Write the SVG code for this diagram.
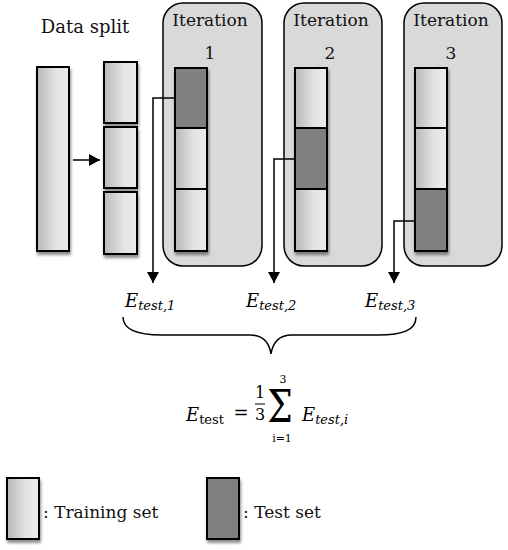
<svg xmlns="http://www.w3.org/2000/svg" width="508" height="550" viewBox="0 0 508 550">
<defs>
<linearGradient id="trg" x1="0" y1="0" x2="1" y2="0">
<stop offset="0" stop-color="#b8b8b8"/>
<stop offset="0.6" stop-color="#e4e4e4"/>
<stop offset="1" stop-color="#ececec"/>
</linearGradient>
<filter id="sh" x="-30%" y="-10%" width="160%" height="130%">
<feGaussianBlur in="SourceAlpha" stdDeviation="1.5"/>
<feOffset dx="1" dy="3" result="b"/>
<feComponentTransfer><feFuncA type="linear" slope="0.45"/></feComponentTransfer>
<feMerge><feMergeNode/><feMergeNode in="SourceGraphic"/></feMerge>
</filter>
<marker id="ah" viewBox="0 0 11 12" refX="11" refY="6" markerWidth="11" markerHeight="12" markerUnits="userSpaceOnUse" orient="auto">
<path d="M0,0 L11,6 L0,12 Z" fill="#000"/>
</marker>
</defs>
<style>
.txt{font-family:"DejaVu Serif","Liberation Serif",serif;fill:#111;}
.box{fill:#d9d9d9;stroke:#000;stroke-width:1.5;}
.tr{fill:url(#trg);stroke:#000;stroke-width:2;}
.te{fill:#808080;stroke:#000;stroke-width:2;}
.conn{fill:none;stroke:#000;stroke-width:1.5;}
.math{font-family:"DejaVu Serif","Liberation Serif",serif;fill:#000;}
.it{font-style:italic;}
</style>

<g id="data-split">
<text class="txt" x="85" y="33" font-size="18" text-anchor="middle">Data split</text>
<rect class="tr" x="37" y="67" width="32" height="184" filter="url(#sh)"/>
</g>
<g id="split-blocks">
<rect class="tr" x="104" y="62" width="33" height="61" filter="url(#sh)"/>
<rect class="tr" x="104" y="127" width="33" height="61" filter="url(#sh)"/>
<rect class="tr" x="104" y="192" width="33" height="62" filter="url(#sh)"/>
</g>

<g id="iteration-1">
<rect class="box" x="163" y="3" width="99" height="263" rx="20"/>
<text class="txt" x="210" y="26" font-size="17" text-anchor="middle">Iteration</text>
<text class="txt" x="210" y="59" font-size="17" text-anchor="middle">1</text>
<g filter="url(#sh)">
<rect class="te" x="175" y="68" width="32" height="60"/>
<rect class="tr" x="175" y="128" width="32" height="61"/>
<rect class="tr" x="175" y="189" width="32" height="62"/>
</g>
</g>
<g id="iteration-2">
<rect class="box" x="284" y="3" width="98" height="263" rx="20"/>
<text class="txt" x="331" y="26" font-size="17" text-anchor="middle">Iteration</text>
<text class="txt" x="330" y="59" font-size="17" text-anchor="middle">2</text>
<g filter="url(#sh)">
<rect class="tr" x="295" y="68" width="32" height="60"/>
<rect class="te" x="295" y="128" width="32" height="61"/>
<rect class="tr" x="295" y="189" width="32" height="62"/>
</g>
</g>
<g id="iteration-3">
<rect class="box" x="404" y="3" width="98" height="263" rx="20"/>
<text class="txt" x="451" y="26" font-size="17" text-anchor="middle">Iteration</text>
<text class="txt" x="451" y="59" font-size="17" text-anchor="middle">3</text>
<g filter="url(#sh)">
<rect class="tr" x="415" y="68" width="32" height="60"/>
<rect class="tr" x="415" y="128" width="32" height="61"/>
<rect class="te" x="415" y="189" width="32" height="62"/>
</g>
</g>

<g id="connectors">
<path class="conn" d="M73,160 H100" marker-end="url(#ah)"/>
<path class="conn" d="M175,98 H153 V283" marker-end="url(#ah)"/>
<path class="conn" d="M295,159 H274 V283" marker-end="url(#ah)"/>
<path class="conn" d="M415,221 H394 V283" marker-end="url(#ah)"/>
<path class="conn" stroke-width="2" d="M123,317 C123,330 137,335 162,335 L250,335 C262,335 269,341 271,354 C273,341 280,335 292,335 L378,335 C403,335 416,330 416,317"/>
</g>

<g id="e1">
<text class="math it" x="125" y="307" font-size="18">E<tspan font-size="13" dy="3">test,1</tspan></text>
</g>
<g id="e2">
<text class="math it" x="246" y="307" font-size="18">E<tspan font-size="13" dy="3">test,2</tspan></text>
</g>
<g id="e3">
<text class="math it" x="365" y="307" font-size="18">E<tspan font-size="13" dy="3">test,3</tspan></text>
</g>

<g id="formula">
<text class="math it" x="186" y="421" font-size="18">E<tspan font-size="13" dy="3" font-style="normal">test</tspan></text>
<text class="math" x="241" y="419" font-size="18" text-anchor="middle">=</text>
<text class="math" x="260" y="398" font-size="16" text-anchor="middle">1</text>
<line x1="255" y1="404" x2="265" y2="404" stroke="#000" stroke-width="1"/>
<text class="math" x="260" y="420" font-size="16" text-anchor="middle">3</text>
<text class="math" x="283" y="383" font-size="11" text-anchor="middle">3</text>
<text class="math" x="280" y="422" font-size="45" text-anchor="middle" transform="translate(280,0) scale(0.8,1) translate(-280,0)">Σ</text>
<text class="math" x="282" y="442" font-size="11" text-anchor="middle">i=1</text>
<text class="math it" x="302" y="421" font-size="18">E<tspan font-size="13" dy="3">test,i</tspan></text>
</g>

<g id="legend-training">
<rect class="tr" x="7" y="478" width="32" height="61" filter="url(#sh)"/>
<text class="txt" x="43" y="518" font-size="17">: Training set</text>
</g>
<g id="legend-test">
<rect class="te" x="207" y="478" width="32" height="61" filter="url(#sh)"/>
<text class="txt" x="243" y="518" font-size="17">: Test set</text>
</g>
</svg>
